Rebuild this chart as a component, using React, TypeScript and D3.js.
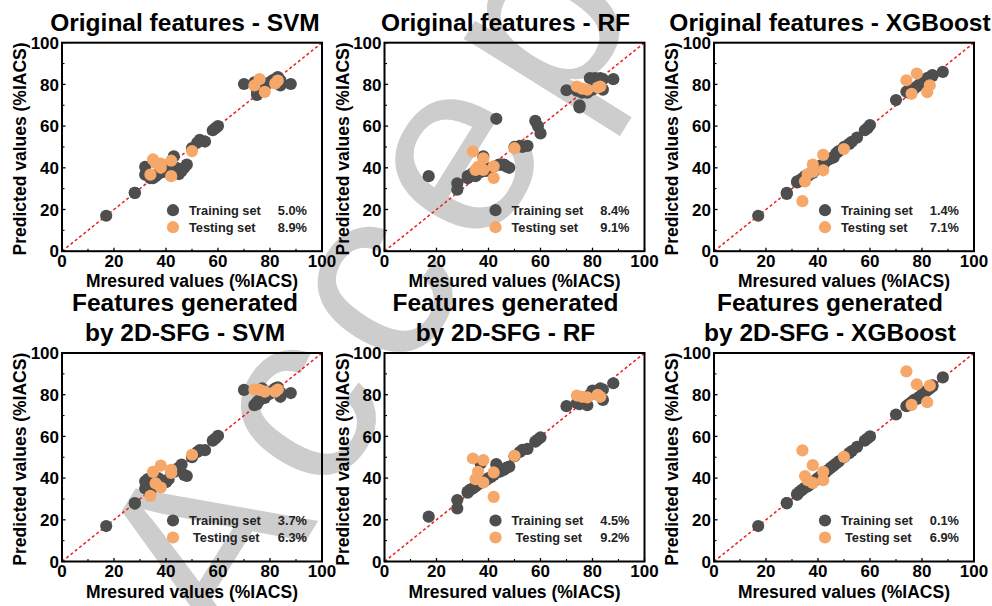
import React from "react";
import * as d3 from "d3";

// ---------- data ----------
const trainMeasured = [17, 28, 28, 32, 32, 33, 34, 35, 36, 37, 38, 39, 40, 41, 42, 43, 44, 45, 46, 47, 48, 50, 52, 53, 55, 58, 59, 60, 70, 74, 75, 75, 76, 77, 78, 79, 80, 81, 82, 83, 84, 84, 88];
const testMeasured = [34, 35, 36, 38, 38, 42, 42, 50, 74, 76, 78, 82, 83];

const svmOrigTrain = [17, 28, 28, 36.7, 40.5, 37, 35, 35, 36, 37, 40, 38, 38.5, 40, 40.5, 45.5, 40, 37, 38.5, 40, 41.5, 49.5, 52, 53.4, 52.6, 58, 59, 60, 80.2, 81, 75, 77, 80, 80.5, 79.5, 80.5, 81, 82, 82.5, 83.5, 79.5, 82, 80.2];
const rfOrigTrain = [36, 32.5, 29.5, 35, 36, 36.5, 37.5, 36, 37.5, 38, 45.5, 38.5, 39.5, 40, 40.5, 63.5, 41.5, 41.5, 41.5, 40.5, 40, 50, 50.5, 50, 50.5, 62.5, 60, 56.5, 77.2, 77, 69, 70, 76, 77, 76, 83, 77.5, 83, 82.5, 83, 77.5, 82.5, 82.5];
const xgbOrigTrain = [17, 27.5, 28, 33, 33.5, 34, 35, 36, 36, 37, 37.5, 39, 40, 41, 41.5, 43, 44, 44.5, 45, 47, 48, 50, 51.5, 52.5, 54.5, 58, 59, 60.5, 72.5, 76.5, 76, 77, 77.5, 78, 79, 80, 81.5, 82, 83, 83.5, 84, 84.5, 86];
const svm2dTrain = [17, 27.8, 28, 35, 38.5, 39.5, 36, 35.5, 37, 40, 39, 38.5, 38, 39.5, 42.5, 43, 44, 45, 46.5, 41.5, 41, 50, 52.5, 53.4, 53.4, 58, 59, 60.3, 82.3, 75, 75.5, 76.5, 77.5, 83, 78.5, 80, 80.5, 82, 83, 83.5, 79, 81, 80.8];
const rf2dTrain = [21.5, 29.5, 25.5, 33, 33.5, 34.5, 35, 36, 37, 47, 38, 39, 40, 40.5, 41.5, 46.7, 43, 43.5, 44, 45, 45.5, 50.5, 52.5, 53.5, 54, 57.5, 58.5, 59.5, 74.5, 76, 76, 75.5, 77, 78, 75, 80, 82, 81.5, 82, 83, 77.5, 82.5, 85.5];
const xgb2dTrain = [17, 28, 28, 32, 32.5, 33.5, 34.5, 35.5, 36, 37, 38, 39, 40, 41, 42, 43, 44, 45, 46, 47, 48, 50, 52, 53, 55, 58, 59, 60, 70.5, 74.5, 75, 75.5, 76.5, 77.5, 78, 79, 80, 81, 82, 83, 84, 84.5, 88.3];

const svmOrigTest = [36.7, 44, 42.3, 42, 40, 43.4, 36, 48, 79.5, 82.5, 76.4, 80.5, 81.8];
const rfOrigTest = [47.8, 39, 40.5, 44.5, 39, 40.7, 35.1, 49.4, 79, 78, 77.5, 78.5, 79];
const xgbOrigTest = [24, 33.5, 37, 38, 41.5, 38.8, 46.2, 49, 82, 75.5, 85.2, 76.3, 79.6];
const svm2dTest = [31.5, 43, 37.5, 46, 35.5, 44, 42.5, 51.2, 82.5, 82.3, 81.5, 81.5, 82.5];
const rf2dTest = [49.4, 39.5, 43, 48.6, 37.9, 42.7, 31, 50.7, 79.6, 79, 78.7, 79.9, 79];
const xgb2dTest = [53.3, 41, 39, 46.2, 37.7, 43, 39, 50.2, 91.2, 75.1, 85, 76.4, 84.4];

const titles = [
  ["Original features - SVM"],
  ["Original features - RF"],
  ["Original features - XGBoost"],
  ["Features generated", "by 2D-SFG - SVM"],
  ["Features generated", "by 2D-SFG - RF"],
  ["Features generated", "by 2D-SFG - XGBoost"],
];
const trainErr = ["5.0%", "8.4%", "1.4%", "3.7%", "4.5%", "0.1%"];
const testErr = ["8.9%", "9.1%", "7.1%", "6.3%", "9.2%", "6.9%"];
const trainPred = [svmOrigTrain, rfOrigTrain, xgbOrigTrain, svm2dTrain, rf2dTrain, xgb2dTrain];
const testPred = [svmOrigTest, rfOrigTest, xgbOrigTest, svm2dTest, rf2dTest, xgb2dTest];
const majorTicks = [0, 20, 40, 60, 80, 100];
const minorTicks = [10, 30, 50, 70, 90];

// ---------- layout ----------
const W = 992;
const H = 606;
const colLeft = [62, 384.5, 714];
const titleShift = [-7, -9, -14];
const rowTop = [42.7, 353];
const plotW = 260;
const plotH = 208.5;
const FONT = "'Liberation Sans', Arial, Helvetica, sans-serif";
const TRAIN_COLOR = "#4e4e4e";
const TEST_COLOR = "#f5a86a";

function Panel({ idx }: { idx: number }) {
  const col = idx % 3;
  const row = Math.floor(idx / 3);
  const L = colLeft[col];
  const T = rowTop[row];
  const x = d3.scaleLinear().domain([0, 100]).range([L, L + plotW]);
  const y = d3.scaleLinear().domain([0, 100]).range([T + plotH, T]);
  const B = T + plotH;
  const cx = L + plotW / 2 + titleShift[col];
  const titleLines = titles[idx];
  const r = 6.1;
  const legX = L + 111;
  const legTextX = L + 127;
  const legPctX = L + 245;
  const legY1 = B - 41;
  const legY2 = B - 24;
  const tfs = 24.5;
  return (
    <g>
      {titleLines.length === 1 ? (
        <text x={cx} y={T - 12} textAnchor="middle" fontFamily={FONT} fontWeight="bold" fontSize={tfs} fill="#000">
          {titleLines[0]}
        </text>
      ) : (
        <>
          <text x={cx} y={T - 42.5} textAnchor="middle" fontFamily={FONT} fontWeight="bold" fontSize={tfs} fill="#000">
            {titleLines[0]}
          </text>
          <text x={cx} y={T - 12} textAnchor="middle" fontFamily={FONT} fontWeight="bold" fontSize={tfs} fill="#000">
            {titleLines[1]}
          </text>
        </>
      )}
      <line x1={x(0)} y1={y(0)} x2={x(100)} y2={y(100)} stroke="#ee1c1c" strokeWidth={1.5} strokeDasharray="3,2.5" />
      {trainMeasured.map((m, i) => (
        <circle key={"tr" + i} cx={x(m)} cy={y(trainPred[idx][i])} r={r} fill={TRAIN_COLOR} />
      ))}
      {testMeasured.map((m, i) => (
        <circle key={"te" + i} cx={x(m)} cy={y(testPred[idx][i])} r={r} fill={TEST_COLOR} />
      ))}
      <rect x={L} y={T} width={plotW} height={plotH} fill="none" stroke="#000" strokeWidth={2} />
      {majorTicks.map((t) => (
        <g key={"mj" + t}>
          <line x1={x(t)} x2={x(t)} y1={B} y2={B - 3.5} stroke="#000" strokeWidth={1.3} />
          <line x1={L} x2={L + 3.5} y1={y(t)} y2={y(t)} stroke="#000" strokeWidth={1.3} />
          <text x={x(t)} y={B + 15.5} textAnchor="middle" fontFamily={FONT} fontWeight="bold" fontSize={17} fill="#000">
            {t}
          </text>
          <text x={L - 3} y={y(t)} dy="0.36em" textAnchor="end" fontFamily={FONT} fontWeight="bold" fontSize={17} fill="#000">
            {t}
          </text>
        </g>
      ))}
      {minorTicks.map((t) => (
        <g key={"mn" + t}>
          <line x1={x(t)} x2={x(t)} y1={B} y2={B - 2.5} stroke="#000" strokeWidth={1.1} />
          <line x1={L} x2={L + 2.5} y1={y(t)} y2={y(t)} stroke="#000" strokeWidth={1.1} />
        </g>
      ))}
      <text x={L + plotW / 2} y={B + 36} textAnchor="middle" fontFamily={FONT} fontWeight="bold" fontSize={17.5} fill="#000">
        Mresured values (%IACS)
      </text>
      <text
        transform={`translate(${L - 36},${T + plotH / 2 + 2}) rotate(-90)`}
        textAnchor="middle"
        fontFamily={FONT}
        fontWeight="bold"
        fontSize={17.5}
        fill="#000"
      >
        Predicted values (%IACS)
      </text>
      <circle cx={legX} cy={legY1} r={r} fill={TRAIN_COLOR} />
      <circle cx={legX} cy={legY2} r={r} fill={TEST_COLOR} />
      <text x={legTextX} y={legY1} dy="0.36em" fontFamily={FONT} fontWeight="bold" fontSize={12.8} fill="#222">
        Training set
      </text>
      <text x={legTextX + (row === 1 ? 4 : 0)} y={legY2} dy="0.36em" fontFamily={FONT} fontWeight="bold" fontSize={12.8} fill="#222">
        Testing set
      </text>
      <text x={legPctX} y={legY1} dy="0.36em" textAnchor="end" fontFamily={FONT} fontWeight="bold" fontSize={12.8} fill="#222">
        {trainErr[idx]}
      </text>
      <text x={legPctX} y={legY2} dy="0.36em" textAnchor="end" fontFamily={FONT} fontWeight="bold" fontSize={12.8} fill="#222">
        {testErr[idx]}
      </text>
    </g>
  );
}

export default function App() {
  return (
    <svg width={W} height={H} style={{ position: "absolute", left: 0, top: 0, background: "#fff" }}>
      <rect x={0} y={0} width={W} height={H} fill="#fff" />
      <text
        transform="translate(230,662) rotate(-58)"
        fontFamily={FONT}
        fontSize={250}
        letterSpacing={20}
        fill="#cdcdcd"
      >
        Accepted
      </text>
      {[0, 1, 2, 3, 4, 5].map((i) => (
        <Panel key={i} idx={i} />
      ))}
    </svg>
  );
}
